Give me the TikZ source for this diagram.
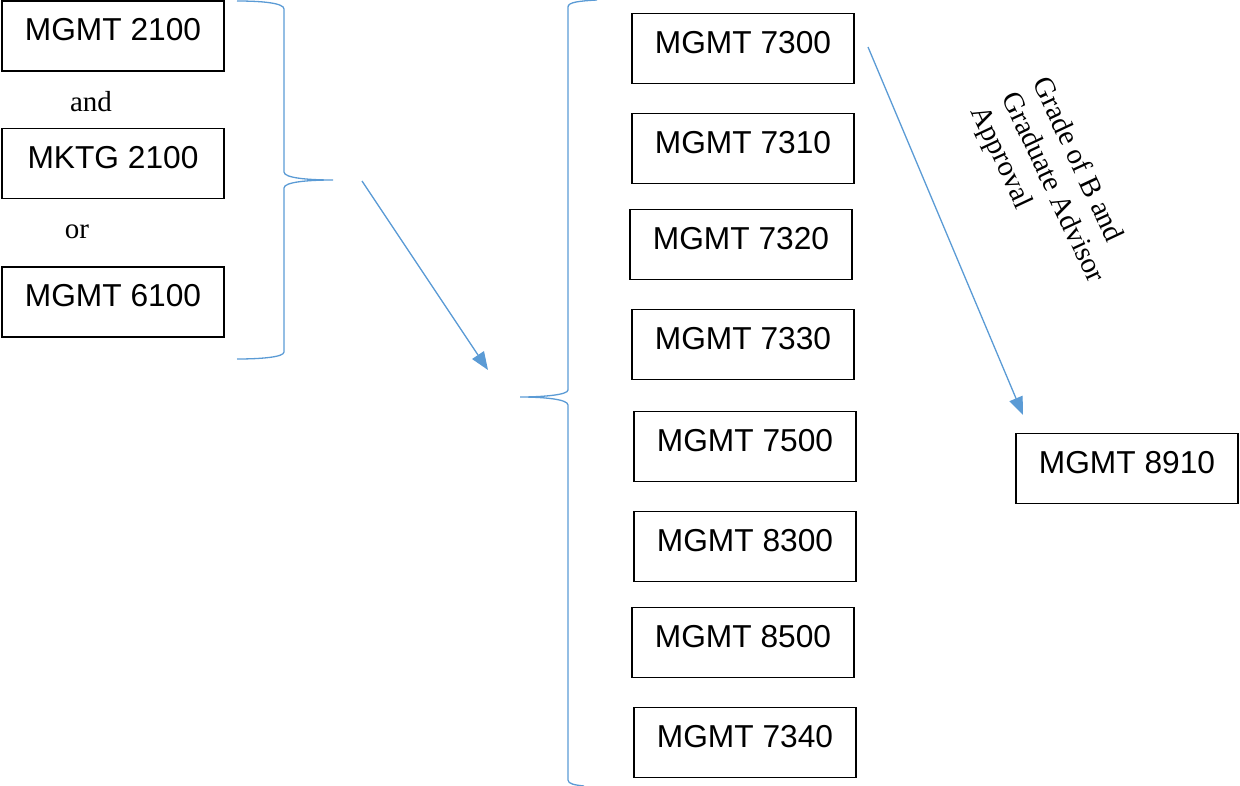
\documentclass[tikz,border=0pt]{standalone}
\usepackage{fontspec}
\setmainfont{Liberation Serif}
\newfontfamily\arialfont{Liberation Sans}
\usetikzlibrary{arrows.meta}
\definecolor{lineblue}{RGB}{91,155,213}
\tikzset{
  course/.style={draw=black, line width=1.6pt, minimum width=222pt, minimum height=70pt,
    inner sep=0pt, font=\arialfont\fontsize{31.7}{38}\selectfont, text height=22.7pt, text depth=13pt},
  conj/.style={font=\fontsize{29}{34}\selectfont, inner sep=0pt},
  bracestyle/.style={draw=lineblue, line width=1.3pt},
  flow/.style={draw=lineblue, line width=1.3pt, -{Triangle[length=18pt,width=14pt]}}
}
\begin{document}
\begin{tikzpicture}[x=1pt,y=-1pt]
\useasboundingbox (0,0) rectangle (1240,786);
% left column
\node[course] (m2100) at (113,36) {MGMT 2100};
\node[conj] (and) at (91,102) {and};
\node[course] (k2100) at (113,163.5) {MKTG 2100};
\node[conj] (or) at (77,232) {or};
\node[course] (m6100) at (113,302) {MGMT 6100};
% left brace
\draw[bracestyle] (237,1) .. controls (262,1) and (284,3) .. (284,9) -- (284,172)
  .. controls (284,178) and (308,180) .. (333,180)
  .. controls (308,180) and (284,182) .. (284,188) -- (284,352)
  .. controls (284,357) and (262,359) .. (237,359);
% right brace
\draw[bracestyle] (597,0) .. controls (580,1) and (568,2) .. (568,7) -- (568,390)
  .. controls (568,395) and (542,397) .. (520,397)
  .. controls (542,397) and (568,399) .. (568,405) -- (568,780)
  .. controls (568,784) and (575,785) .. (584,786);
% arrow 1
\coordinate (a1s) at (362,181);
\coordinate (a1e) at (488,370);
\draw[flow] (a1s) -- (a1e);
% right column
\node[course] (m7300) at (743,48.5) {MGMT 7300};
\node[course] (m7310) at (743,148.5) {MGMT 7310};
\node[course] (m7320) at (741,244.5) {MGMT 7320};
\node[course] (m7330) at (743,344.5) {MGMT 7330};
\node[course] (m7500) at (745,446.5) {MGMT 7500};
\node[course] (m8300) at (745,546.5) {MGMT 8300};
\node[course] (m8500) at (743,642.5) {MGMT 8500};
\node[course] (m7340) at (745,742.5) {MGMT 7340};
% arrow 2
\coordinate (a2s) at (868,47);
\coordinate (a2e) at (1023,415);
\draw[flow] (a2s) -- (a2e);
\node[conj, align=left, rotate=-64.9] (cond) at (1052,188) {Grade of B and\\Graduate Advisor\\Approval};
% target
\node[course] (m8910) at (1127,468.5) {MGMT 8910};
\end{tikzpicture}
\end{document}
